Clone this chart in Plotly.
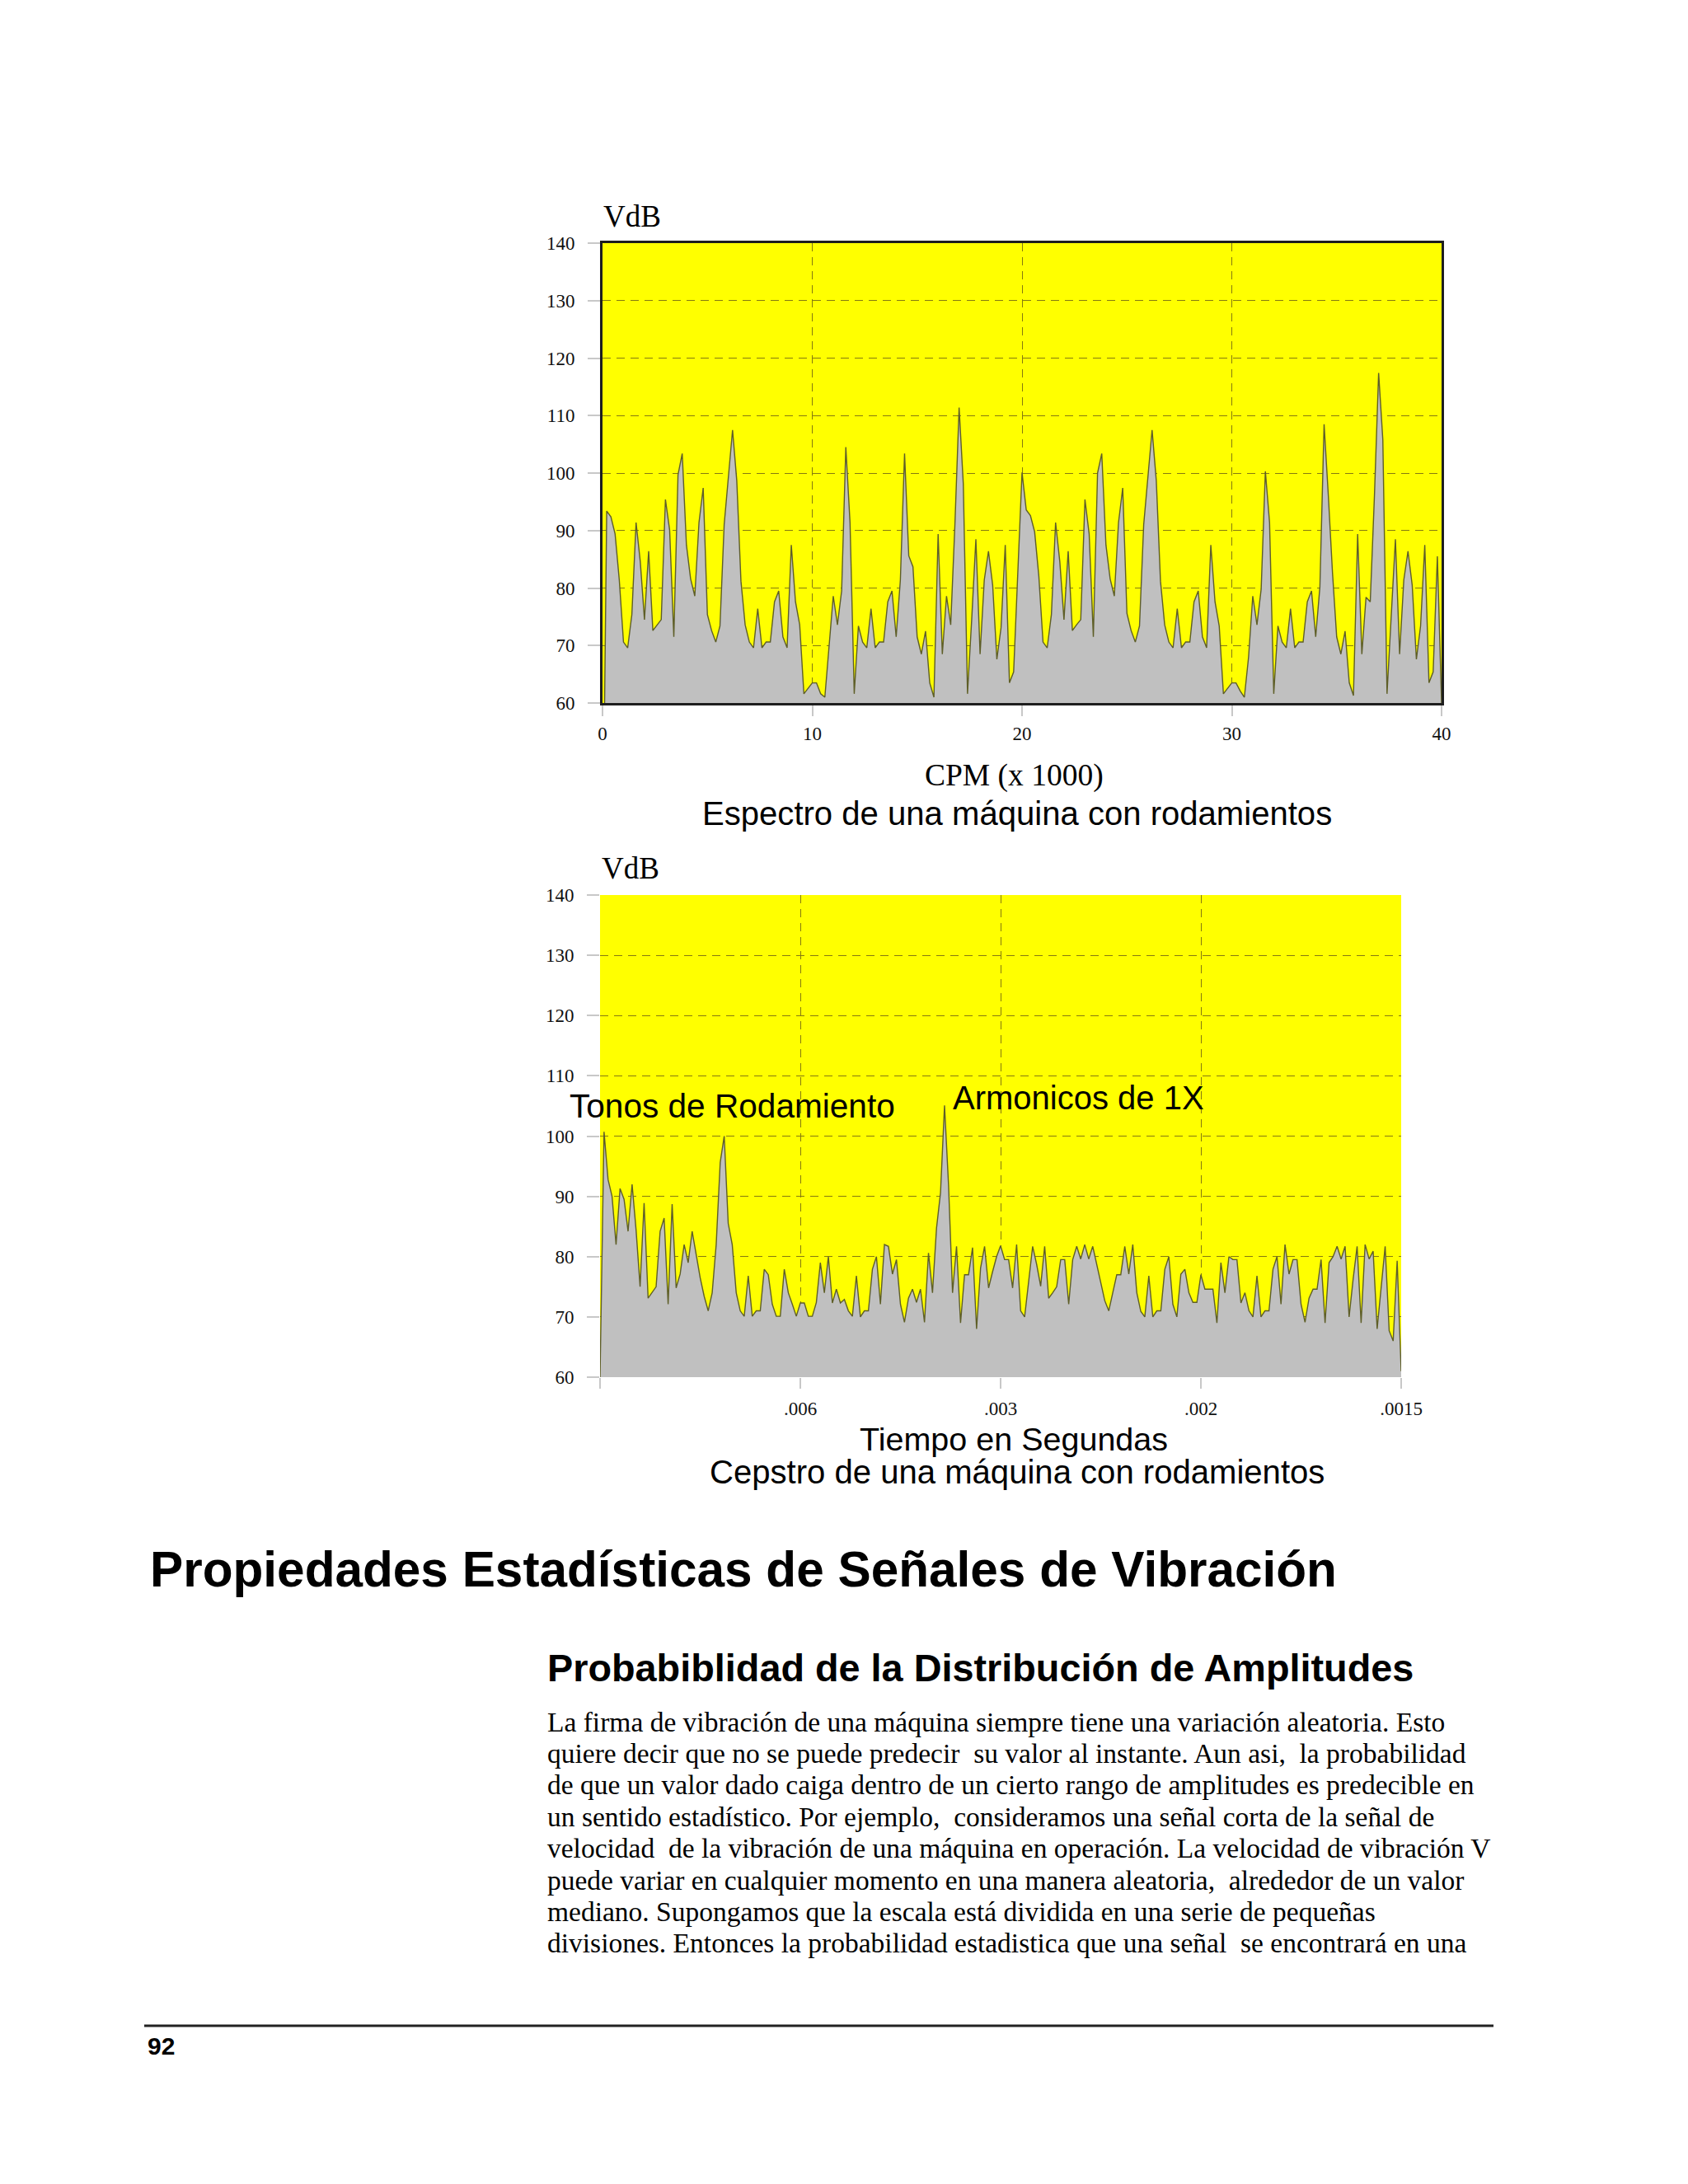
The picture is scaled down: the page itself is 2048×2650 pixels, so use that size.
import plotly.graph_objects as go

W, H = 2048, 2650
OX, OY = 8, 8  # page body margin offset

# ---------------- data ----------------
cpm_x1000 = [0.1] + [round(0.2 * k, 1) for k in range(1, 201)]
spectrum_vdb = [60.0,
    93.4, 92.4, 89.4, 81.4, 70.6, 69.6, 75.4, 91.4, 84.6, 74.5,
    86.4, 72.6, 73.6, 74.5, 95.4, 90.1, 71.5, 99.7, 103.4, 87.5,
    81.6, 78.6, 91.4, 97.4, 75.4, 72.6, 70.6, 73.4, 91.0, 99.5,
    107.5, 98.7, 81.2, 73.6, 70.6, 69.6, 76.4, 69.6, 70.6, 70.6,
    77.6, 79.5, 71.5, 69.6, 87.5, 77.6, 73.6, 61.6, 62.6, 63.5,
    63.5, 61.6, 61.0, 70.5, 78.6, 73.6, 79.5, 104.5, 91.4, 61.6,
    73.4, 70.6, 69.6, 76.4, 69.6, 70.6, 70.6, 77.6, 79.5, 71.5,
    81.4, 103.4, 85.6, 83.7, 71.5, 68.5, 72.5, 63.5, 61.0, 89.4,
    68.5, 78.6, 73.6, 91.0, 111.4, 98.1, 61.6, 74.5, 88.5, 68.5,
    81.4, 86.4, 80.5, 67.6, 73.1, 87.5, 63.5, 65.4, 83.0, 100.1,
    93.6, 92.6, 89.8, 82.1, 70.6, 69.6, 75.4, 91.4, 84.6, 74.5,
    86.4, 72.6, 73.6, 74.5, 95.4, 89.4, 71.5, 100.0, 103.4, 87.5,
    81.6, 78.6, 91.4, 97.4, 75.6, 72.6, 70.6, 73.4, 91.0, 99.5,
    107.5, 98.7, 81.2, 73.6, 70.6, 69.6, 76.4, 69.6, 70.6, 70.6,
    77.6, 79.5, 71.5, 69.6, 87.5, 77.6, 73.4, 61.6, 62.6, 63.5,
    63.5, 62.1, 61.0, 68.0, 78.6, 73.6, 79.8, 100.3, 91.4, 61.6,
    73.4, 70.6, 69.6, 76.4, 69.6, 70.6, 70.6, 77.6, 79.5, 71.5,
    80.2, 108.5, 96.2, 82.7, 71.5, 68.5, 72.5, 63.5, 61.3, 89.4,
    68.5, 78.4, 77.6, 96.0, 117.4, 105.8, 61.6, 74.4, 88.5, 68.5,
    81.4, 86.4, 80.5, 67.6, 73.4, 87.5, 63.5, 65.4, 85.5, 60.0]

cepstrum_pos = [round(0.02 * k, 2) for k in range(201)]
cepstrum_vdb = [
    60.0, 100.7, 92.8, 90.0, 82.0, 91.3, 89.5, 84.2, 92.0, 84.4,
    75.0, 88.9, 73.1, 74.0, 75.0, 84.2, 86.4, 72.1, 88.7, 74.8,
    77.1, 82.0, 79.0, 84.2, 80.1, 76.5, 73.4, 71.0, 74.0, 82.0,
    95.6, 100.0, 85.5, 82.0, 74.0, 71.0, 70.1, 76.8, 70.1, 71.0,
    71.0, 77.9, 77.0, 72.1, 70.1, 70.1, 77.9, 74.0, 72.1, 70.1,
    72.3, 72.3, 70.1, 70.1, 72.4, 79.0, 74.0, 80.0, 72.3, 74.6,
    72.3, 72.9, 71.0, 70.1, 76.8, 70.0, 71.0, 71.0, 77.9, 80.0,
    72.1, 82.0, 81.7, 77.1, 79.5, 72.1, 69.1, 73.1, 74.6, 72.4,
    74.6, 69.1, 80.6, 74.0, 84.7, 90.6, 105.1, 91.9, 74.0, 81.7,
    69.0, 77.0, 77.0, 81.5, 68.0, 78.1, 81.7, 74.8, 77.5, 80.0,
    81.8, 79.5, 79.5, 74.8, 82.0, 71.0, 70.0, 76.2, 81.7, 78.7,
    75.1, 81.7, 73.1, 74.0, 75.0, 79.5, 79.5, 72.1, 79.5, 81.7,
    79.6, 82.0, 79.6, 81.7, 78.7, 75.6, 72.7, 71.0, 74.0, 77.0,
    77.0, 81.7, 77.1, 82.0, 74.0, 70.9, 70.0, 76.8, 70.0, 71.0,
    71.0, 77.9, 80.0, 72.1, 70.0, 77.1, 77.9, 74.0, 72.4, 72.4,
    77.0, 74.6, 74.6, 74.6, 69.0, 79.0, 74.0, 80.0, 79.5, 79.5,
    72.3, 74.0, 71.0, 70.0, 76.8, 70.0, 71.0, 71.0, 77.9, 80.0,
    72.1, 82.0, 77.1, 79.5, 79.5, 72.1, 69.1, 73.1, 74.6, 74.6,
    79.5, 69.0, 79.0, 80.0, 81.7, 79.6, 81.7, 70.0, 76.2, 81.7,
    69.0, 82.0, 79.6, 80.9, 68.0, 75.0, 81.7, 67.7, 66.0, 79.3,
    61.0]

y_ticks = [60, 70, 80, 90, 100, 110, 120, 130, 140]
x1_ticks = [0, 10, 20, 30, 40]
x2_tickvals = [0, 1, 2, 3, 4]
x2_ticktext = ["", ".006", ".003", ".002", ".0015"]

body_lines = [
    "La firma de vibración de una máquina siempre tiene una variación aleatoria. Esto",
    "quiere decir que no se puede predecir  su valor al instante. Aun asi,  la probabilidad",
    "de que un valor dado caiga dentro de un cierto rango de amplitudes es predecible en",
    "un sentido estadístico. Por ejemplo,  consideramos una señal corta de la señal de",
    "velocidad  de la vibración de una máquina en operación. La velocidad de vibración V",
    "puede variar en cualquier momento en una manera aleatoria,  alrededor de un valor",
    "mediano. Supongamos que la escala está dividida en una serie de pequeñas",
    "divisiones. Entonces la probabilidad estadistica que una señal  se encontrará en una",
]

# ---------------- helpers ----------------
def px(x):
    return (x - OX) / W

def py(y):
    return 1 - (y - OY) / H

SERIF = "Liberation Serif, Times New Roman, serif"
SANS = "Liberation Sans, Arial, sans-serif"
GRID = "#857a10"
FILL = "#c0c0c0"
EDGE = "#5e5e28"
TICKC = "#c8c8c8"

fig = go.Figure()

fig.add_trace(go.Scatter(
    x=cpm_x1000, y=spectrum_vdb, mode="lines", fill="tozeroy",
    fillcolor=FILL, line=dict(color=EDGE, width=1.4),
    xaxis="x", yaxis="y", hoverinfo="skip", showlegend=False))

fig.add_trace(go.Scatter(
    x=cepstrum_pos, y=cepstrum_vdb, mode="lines", fill="tozeroy",
    fillcolor=FILL, line=dict(color=EDGE, width=1.4),
    xaxis="x2", yaxis="y2", hoverinfo="skip", showlegend=False))

common_y = dict(range=[60, 140], tickvals=y_ticks, showgrid=True, gridcolor=GRID,
                griddash="10px,7px", gridwidth=1, ticks="outside", ticklen=15,
                tickcolor=TICKC, tickwidth=1.5, zeroline=False, automargin=False,
                tickfont=dict(family=SERIF, size=23, color="#111"),
                ticklabelstandoff=11, fixedrange=True)

fig.update_layout(
    template="none",
    width=W, height=H, autosize=False,
    margin=dict(l=0, r=0, t=0, b=0, pad=0),
    paper_bgcolor="white", plot_bgcolor="#ffff00",
    showlegend=False,
    xaxis=dict(domain=[px(731), px(1749)], anchor="y", range=[0, 40],
               tickvals=x1_ticks, showgrid=True, gridcolor=GRID,
               griddash="10px,7px", ticks="outside", ticklen=13,
               tickcolor=TICKC, tickwidth=1.5, zeroline=False, automargin=False,
               showline=True, mirror=True, linecolor="#1e1e1e", linewidth=3,
               tickfont=dict(family=SERIF, size=23, color="#111"),
               ticklabelstandoff=1, fixedrange=True),
    yaxis=dict(domain=[py(853), py(295)], anchor="x",
               showline=True, mirror=True, linecolor="#1e1e1e", linewidth=3,
               **common_y),
    xaxis2=dict(domain=[px(728), px(1700)], anchor="y2", range=[0, 4],
                tickvals=x2_tickvals, ticktext=x2_ticktext, showgrid=True,
                gridcolor=GRID, griddash="10px,7px", ticks="outside", ticklen=13,
                tickcolor=TICKC, tickwidth=1.5, zeroline=False, showline=False,
                automargin=False,
                tickfont=dict(family=SERIF, size=23, color="#111"),
                ticklabelstandoff=4, fixedrange=True),
    yaxis2=dict(domain=[py(1671), py(1086)], anchor="x2", showline=False,
                **common_y),
)

ann = []

def text(x, y, s, size, family, xanchor="center", yanchor="middle", bold=False,
         color="#000"):
    if bold:
        s = "<b>" + s + "</b>"
    ann.append(dict(x=px(x), y=py(y), xref="paper", yref="paper", text=s,
                    showarrow=False, xanchor=xanchor, yanchor=yanchor,
                    borderpad=0,
                    font=dict(family=family, size=size, color=color)))

# top chart texts
text(731, 263, "VdB", 37, SERIF, xanchor="left")
text(1230, 941, "CPM (x 1000)", 37.5, SERIF)
text(1234, 987, "Espectro de una máquina con rodamientos", 40.1, SANS)

# bottom chart texts
text(729, 1053, "VdB", 37, SERIF, xanchor="left")
text(888, 1342, "Tonos de Rodamiento", 40.6, SANS)
text(1308, 1332, "Armonicos de 1X", 40, SANS)
text(1230, 1723, "Tiempo en Segundas", 39.5, SANS, yanchor="top")
text(1234, 1786, "Cepstro de una máquina con rodamientos", 40.1, SANS)

# page texts
text(181, 1904, "Propiedades Estadísticas de Señales de Vibración", 60.3, SANS,
     xanchor="left", bold=True)
text(663, 2024, "Probabiblidad de la Distribución de Amplitudes", 46.8, SANS,
     xanchor="left", bold=True)
line_y0, line_step = 2089, 38.4
for i, s in enumerate(body_lines):
    text(663, line_y0 + i * line_step, s, 33.5, SERIF, xanchor="left")
text(178, 2482, "92", 30, SANS, xanchor="left", bold=True)

fig.update_layout(annotations=ann)

fig.add_shape(type="line", xref="paper", yref="paper",
              x0=px(175), x1=px(1812), y0=py(2458), y1=py(2458),
              line=dict(color="#222", width=3))

fig.write_html("out.html", config={"displayModeBar": False})
